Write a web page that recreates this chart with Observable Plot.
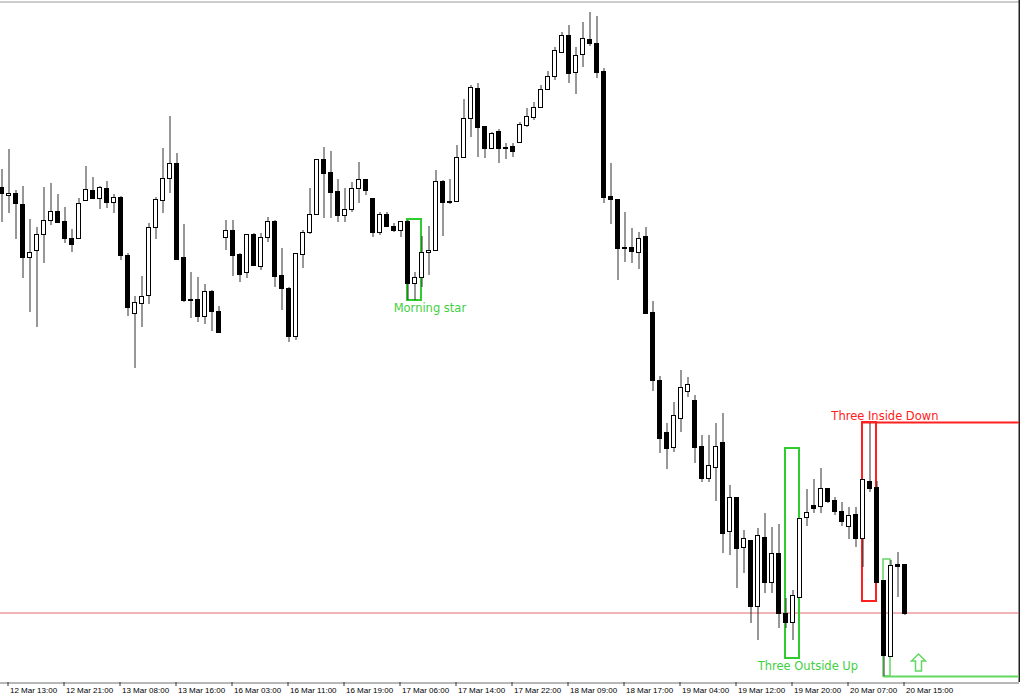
<!DOCTYPE html>
<html>
<head>
<meta charset="utf-8">
<script src="https://cdn.jsdelivr.net/npm/d3@7"></script>
<script src="https://cdn.jsdelivr.net/npm/@observablehq/plot@0.6"></script>
<style>
  html, body { margin: 0; padding: 0; background: #ffffff; }
  #chart svg { display: block; }
</style>
</head>
<body>
<div id="chart"></div>
<script>
// ---- Hourly candles (bar index 0..129), prices in chart units ----
const open = [513,505,507,496,443,450,466,480,489,479,462,462,500,510,502,512,498,503,445,387,
  397,405,473,500,522,537,443,401,401,384,409,389,463,470,446,428,466,434,463,479,
  425,412,364,446,468,486,541,528,509,485,491,512,521,502,468,486,474,470,479,417,
  423,448,450,519,499,499,543,582,612,574,552,569,553,554,558,575,583,593,611,624,
  648,665,628,646,661,657,629,504,501,453,453,448,464,388,320,268,253,282,309,300,
  254,222,233,258,169,203,153,160,94,163,118,147,87,78,103,183,195,194,212,200,
  189,174,186,162,219,213,120,44,136,136];
const high = [531,551,510,514,481,473,513,517,506,493,471,502,534,523,514,519,506,504,447,404,
  424,477,503,552,584,547,476,428,423,416,410,394,480,480,447,466,467,467,483,480,
  452,413,447,470,512,541,553,549,521,512,518,538,521,502,488,488,477,479,480,428,
  464,474,530,520,521,555,601,615,617,574,568,571,557,557,578,592,598,615,629,653,
  668,675,653,678,688,684,632,537,501,488,472,468,473,399,324,277,298,330,323,305,
  265,265,277,287,215,203,170,160,172,187,173,176,102,110,182,211,221,232,212,203,
  198,193,193,221,277,219,120,140,148,136];
const low = [478,487,461,422,388,373,437,475,477,457,448,461,499,501,491,492,487,440,384,332,
  373,396,461,487,507,440,398,382,378,376,369,367,450,424,418,422,434,430,458,413,
  390,358,360,432,466,486,482,482,478,478,488,497,505,463,465,473,468,463,400,400,
  413,425,450,464,496,498,543,563,543,542,552,537,541,543,558,573,580,592,610,620,
  647,617,606,633,654,622,497,476,420,438,437,431,386,309,247,231,248,268,303,237,
  218,218,199,147,145,112,127,77,60,107,107,72,72,60,103,174,187,187,197,185,
  174,161,153,133,208,118,24,43,103,85];
const close = [507,507,497,443,448,466,480,489,478,462,456,497,511,502,513,498,503,445,393,398,
  404,473,501,522,537,441,400,400,384,409,389,368,470,445,426,466,435,463,479,424,
  412,364,447,468,486,541,527,508,485,491,512,521,510,468,486,474,470,479,417,423,
  448,450,519,498,498,543,582,613,573,552,567,552,552,549,576,584,593,611,624,650,
  665,627,645,662,657,628,503,501,452,452,449,462,387,320,262,252,285,313,316,253,
  222,235,254,167,203,152,162,94,165,118,147,87,78,105,182,188,192,212,199,189,
  179,185,162,221,212,118,45,135,134,87];

// ---- Time axis (every 8th bar) ----
const tickBars = [1,9,17,25,33,41,49,57,65,73,81,89,97,105,113,121,129];
const tickLabels = ["12 Mar 13:00","12 Mar 21:00","13 Mar 08:00","13 Mar 16:00","16 Mar 03:00",
  "16 Mar 11:00","16 Mar 19:00","17 Mar 06:00","17 Mar 14:00","17 Mar 22:00","18 Mar 09:00",
  "18 Mar 17:00","19 Mar 04:00","19 Mar 12:00","19 Mar 20:00","20 Mar 07:00","20 Mar 15:00"];

// ---- Horizontal level ----
const supportLevel = 87.5;

// ---- Candlestick pattern annotations ----
const patternName  = ["Morning star", "Three Outside Up", "Three Inside Down"];
const patternFirst = [58, 112, 123];
const patternLast  = [60, 114, 125];
const patternHigh  = [481, 252, 278];
const patternLow   = [400, 42, 99];
const patternBull  = [true, true, false];

// unlabeled bullish signal at the end of the series
const signalFirst = [126];
const signalLast  = [127];
const signalHigh  = [141];
const signalLow   = [24];
const arrowBar    = [131];
const arrowPrice  = [38];

// ---- Build tables ----
const candles = open.map((o, i) => ({i, o, h: high[i], l: low[i], c: close[i], up: close[i] > o}));
const patterns = patternName.map((name, k) => ({
  name, first: patternFirst[k], last: patternLast[k], top: patternHigh[k], bottom: patternLow[k], bull: patternBull[k]
}));
const bulls = patterns.filter(d => d.bull);
const bears = patterns.filter(d => !d.bull);
const signals = signalFirst.map((f, k) => ({first: f, last: signalLast[k], top: signalHigh[k], bottom: signalLow[k]}));
const arrows = arrowBar.map((b, k) => ({b, p: arrowPrice[k]}));

const xMin = -1 / 7, xMax = 1018 / 7;
const half = 2 / 7;

const GREEN = "#2fcb2f", GREEN_TXT = "#3fd03f", LIGHT_GREEN = "#62d862", RED = "#ff2020";

// hollow "up" arrow symbol
const upArrow = {
  draw(ctx, size) {
    const r = Math.sqrt(size / Math.PI);
    const s = r / 8.5;
    ctx.moveTo(0, -8.5 * s);
    ctx.lineTo(7 * s, -1.5 * s);
    ctx.lineTo(3 * s, -1.5 * s);
    ctx.lineTo(3 * s, 8.5 * s);
    ctx.lineTo(-3 * s, 8.5 * s);
    ctx.lineTo(-3 * s, -1.5 * s);
    ctx.lineTo(-7 * s, -1.5 * s);
    ctx.closePath();
  }
};

const chart = Plot.plot({
  width: 1020,
  height: 700,
  marginTop: 0,
  marginBottom: 18,
  marginLeft: 0,
  marginRight: 1,
  style: {background: "#ffffff", color: "#000"},
  x: {type: "linear", domain: [xMin, xMax]},
  y: {domain: [18, 700], axis: null},
  marks: [
    // frame pieces
    Plot.ruleY([700], {stroke: "#9a9a9a", dy: 1.5}),
    Plot.ruleY([18], {stroke: "#707070", dy: 0.5}),
    Plot.ruleX([xMax], {stroke: "#222", strokeWidth: 2}),
    // horizontal level
    Plot.ruleY([supportLevel], {stroke: "#e46a6a"}),
    // pattern boxes
    Plot.rect(bulls, {x1: "first", x2: "last", y1: "bottom", y2: "top", fill: "none", stroke: GREEN, strokeWidth: 2}),
    Plot.rect(bears, {x1: "first", x2: "last", y1: "bottom", y2: "top", fill: "none", stroke: RED, strokeWidth: 2}),
    Plot.ruleY(bears, {y: "top", x1: "first", x2: () => xMax, stroke: RED, strokeWidth: 2}),
    Plot.rect(signals, {x1: "first", x2: "last", y1: "bottom", y2: "top", fill: "none", stroke: LIGHT_GREEN, strokeWidth: 1.5}),
    Plot.ruleY(signals, {y: "bottom", x1: "first", x2: () => xMax, stroke: LIGHT_GREEN, strokeWidth: 2}),
    // candles: wicks then bodies
    Plot.ruleX(candles, {x: "i", y1: "l", y2: "h", stroke: "#303030", strokeWidth: 1, dx: 0.5}),
    Plot.rect(candles.filter(d => d.up), {x1: d => d.i - half, x2: d => d.i + half, y1: "o", y2: "c",
      fill: "#ffffff", stroke: "#000", strokeWidth: 1, dx: 0.5, dy: 0.5}),
    Plot.rect(candles.filter(d => !d.up), {x1: d => d.i - half, x2: d => d.i + half, y1: "o", y2: "c",
      fill: "#000", stroke: "#000", strokeWidth: 1, dx: 0.5, dy: 0.5}),
    // pattern labels
    Plot.text(bulls, {x: d => d.last + 1.2, y: "bottom", text: "name", dy: 7.5, lineAnchor: "middle",
      fill: GREEN_TXT, fontSize: 11.5, fontFamily: "DejaVu Sans"}),
    Plot.text(bears, {x: d => d.last + 1.2, y: "top", text: "name", dy: -6.5, lineAnchor: "middle",
      fill: RED, fontSize: 11.5, fontFamily: "DejaVu Sans"}),
    // signal arrow
    Plot.dot(arrows, {x: "b", y: "p", symbol: upArrow, r: 8.5, fill: "#ffffff", stroke: LIGHT_GREEN, strokeWidth: 1.5}),
    // time axis
    Plot.axisX(tickBars, {tickSize: 4, tickFormat: () => "", label: null, stroke: "#333", dx: -0.5}),
    Plot.text(tickBars, {x: d => d, text: (d, k) => tickLabels[k], frameAnchor: "bottom", dy: 7.5, dx: 1.5,
      textAnchor: "start", lineAnchor: "middle", fontSize: 8, fontFamily: "Liberation Sans", fill: "#000"})
  ]
});
document.getElementById("chart").appendChild(chart);
</script>
</body>
</html>
